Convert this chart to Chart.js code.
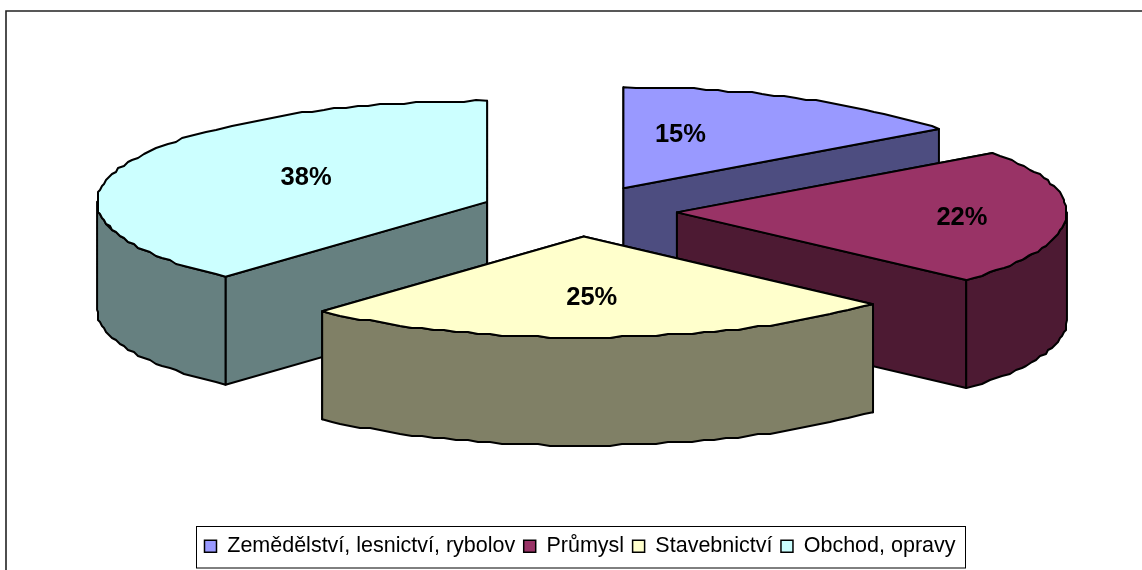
<!DOCTYPE html>
<html>
<head>
<meta charset="utf-8">
<style>html,body{margin:0;padding:0;background:#fff;overflow:hidden}canvas{display:block}</style>
<script src="https://cdn.jsdelivr.net/npm/chart.js@4/dist/chart.umd.min.js"></script>
</head>
<body>
<canvas id="c" width="1142" height="570"></canvas>
<script>
const categories = ['Zemědělství, lesnictví, rybolov', 'Průmysl', 'Stavebnictví', 'Obchod, opravy'];
const shares = [15, 21.7, 25, 38.3];
const topColors = ['#9999FF', '#993366', '#FFFFCC', '#CCFFFF'];
const wallColors = ['#4D4D80', '#4D1A33', '#808066', '#668080'];

// projection of the flat pie onto the tilted 3D view
const VIEW = {cx: 578.8, cy: 211, rx: 390, ry: 101, depth: 108, radius: 200, offset: 50.4};
const PAINT_ORDER = [0, 1, 3, 2];
const LABEL_OFFSET = [{x: 57, y: -53}, {x: 285, y: 6}, {x: 8, y: 62}, {x: -181, y: -24}];

function jagged(x, y) {
  return [Math.round(x / 2) * 2, Math.round(y / 2) * 2];
}

const tiltPlugin = {
  id: 'tilt',
  beforeDatasetsDraw(chart) {
    const ctx = chart.ctx;
    const meta = chart.getDatasetMeta(0);
    ctx.save();
    ctx.lineJoin = 'round';
    ctx.lineCap = 'round';
    ctx.lineWidth = 2;
    ctx.strokeStyle = '#000';
    const apexes = [];
    PAINT_ORDER.forEach(i => {
      const arc = meta.data[i];
      const R = arc.outerRadius;
      const mid = (arc.startAngle + arc.endAngle) / 2;
      const ex = arc.options.offset / R;
      const ax = VIEW.cx + VIEW.rx * ex * Math.cos(mid);
      const ay = VIEW.cy + VIEW.ry * ex * Math.sin(mid);
      apexes[i] = {x: ax, y: ay};
      const pt = a => [ax + VIEW.rx * Math.cos(a), ay + VIEW.ry * Math.sin(a)];
      const rimPoints = (a0, a1) => {
        const pts = [pt(a0)];
        const n = Math.max(2, Math.round(Math.abs(a1 - a0) * 260 / 8));
        for (let k = 1; k < n; k++) {
          const p = pt(a0 + (a1 - a0) * k / n);
          pts.push(jagged(p[0], p[1]));
        }
        pts.push(pt(a1));
        return pts;
      };
      const d = VIEW.depth;
      const s = pt(arc.startAngle), e = pt(arc.endAngle);
      const wall = wallColors[i];
      const paint = fill => { ctx.fillStyle = fill; ctx.fill(); ctx.stroke(); };
      // cut faces
      [s, e].forEach(p => {
        ctx.beginPath();
        ctx.moveTo(ax, ay);
        ctx.lineTo(p[0], p[1]);
        ctx.lineTo(p[0], p[1] + d);
        ctx.lineTo(ax, ay + d);
        ctx.closePath();
        paint(wall);
      });
      // outer rim (front half only)
      const from = Math.max(arc.startAngle, 0);
      const to = Math.min(arc.endAngle, Math.PI);
      if (to > from) {
        const pts = rimPoints(from, to);
        ctx.beginPath();
        pts.forEach((p, k) => k ? ctx.lineTo(p[0], p[1] + d) : ctx.moveTo(p[0], p[1] + d));
        ctx.lineTo(pts[pts.length - 1][0], pts[pts.length - 1][1]);
        for (let k = pts.length - 1; k >= 0; k--) ctx.lineTo(pts[k][0], pts[k][1]);
        ctx.closePath();
        paint(wall);
      }
      // top face
      ctx.beginPath();
      ctx.moveTo(ax, ay);
      rimPoints(arc.startAngle, arc.endAngle).forEach(p => ctx.lineTo(p[0], p[1]));
      ctx.closePath();
      paint(arc.options.backgroundColor);
    });
    // percentage labels
    ctx.fillStyle = '#000';
    ctx.font = 'bold 25.5px "Liberation Sans", Arial, sans-serif';
    ctx.textAlign = 'center';
    ctx.textBaseline = 'middle';
    shares.forEach((v, i) => {
      ctx.fillText(Math.round(v) + '%', apexes[i].x + LABEL_OFFSET[i].x, apexes[i].y + LABEL_OFFSET[i].y);
    });
    ctx.restore();
    return false;
  },
  afterDraw(chart) {
    const ctx = chart.ctx;
    const hits = chart.legend.legendHitBoxes;
    const first = hits[0], last = hits[hits.length - 1];
    const left = Math.round(first.left) - 7.5;
    const right = Math.round(last.left + last.width) + 9.5;
    ctx.save();
    ctx.strokeStyle = '#000';
    ctx.lineWidth = 1;
    ctx.strokeRect(left, 526.5, right - left, 41.5);
    ctx.lineWidth = 1.6;
    ctx.strokeStyle = '#222';
    ctx.beginPath();
    ctx.moveTo(6, 570);
    ctx.lineTo(6, 11);
    ctx.lineTo(1142, 11);
    ctx.stroke();
    ctx.restore();
  }
};

new Chart(document.getElementById('c'), {
  type: 'pie',
  data: {
    labels: categories,
    datasets: [{
      data: shares,
      backgroundColor: topColors,
      borderColor: '#000',
      borderWidth: 1.5,
      offset: VIEW.offset
    }]
  },
  options: {
    responsive: false,
    animation: false,
    radius: VIEW.radius,
    layout: {padding: {left: 18, bottom: 3}},
    events: [],
    plugins: {
      tooltip: {enabled: false},
      legend: {
        position: 'bottom',
        labels: {
          boxWidth: 12,
          boxHeight: 12,
          padding: 8.5,
          color: '#000',
          font: {family: '"Liberation Sans", Arial, sans-serif', size: 21.5}
        }
      }
    }
  },
  plugins: [tiltPlugin]
});
</script>
</body>
</html>
